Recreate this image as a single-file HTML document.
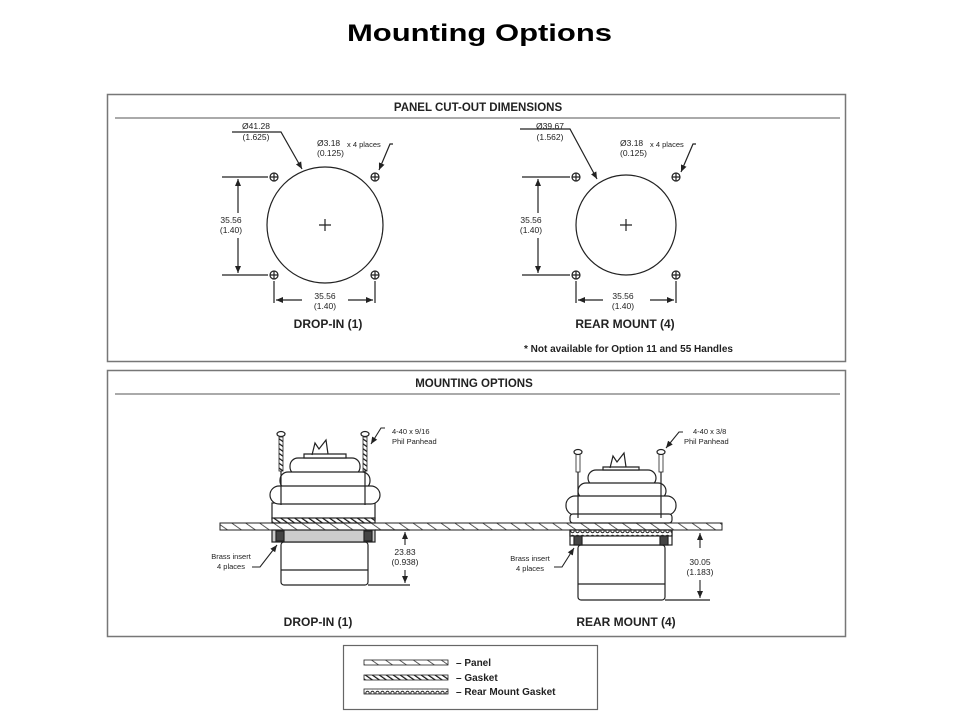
<!DOCTYPE html>
<html><head><style>
body{margin:0;background:#fff;}
svg{display:block;}
text{font-family:"Liberation Sans",sans-serif;fill:#222;}
</style></head><body>
<svg width="960" height="720" viewBox="0 0 960 720">
<defs>
<pattern id="hatch" width="8" height="8" patternUnits="userSpaceOnUse" patternTransform="rotate(-55)">
<line x1="0" y1="0" x2="0" y2="8" stroke="#333" stroke-width="1.6"/></pattern>
<pattern id="gask" width="4" height="4" patternUnits="userSpaceOnUse" patternTransform="rotate(-55)">
<rect width="4" height="4" fill="#fff"/><line x1="0" y1="0" x2="0" y2="4" stroke="#111" stroke-width="2.4"/></pattern>
<pattern id="rgask" width="5" height="6" patternUnits="userSpaceOnUse">
<rect width="5" height="6" fill="#fff"/><circle cx="2.5" cy="3" r="1.7" fill="none" stroke="#222" stroke-width="1"/></pattern>
<marker id="ar" markerWidth="8" markerHeight="8" refX="7" refY="4" orient="auto" markerUnits="userSpaceOnUse"><path d="M0,1 L7,4 L0,7 z" fill="#222"/></marker>
</defs>
<text x="347" y="41" textLength="265" lengthAdjust="spacingAndGlyphs" font-size="24" font-weight="bold" style="fill:#000">Mounting Options</text>

<!-- Panel 1 -->
<rect x="107.5" y="94.5" width="738" height="267" fill="none" stroke="#777" stroke-width="1.5"/>
<text x="478" y="111" text-anchor="middle" font-size="11.5" font-weight="bold">PANEL CUT-OUT DIMENSIONS</text>
<line x1="115" y1="118" x2="840" y2="118" stroke="#777" stroke-width="1.2"/>

<g stroke="#222" fill="none" stroke-width="1.2">
<circle cx="325" cy="225" r="58"/>
<path d="M319,225h12M325,219v12"/>
<g><circle cx="274" cy="177" r="4"/><path d="M270,177h8M274,173v8"/></g>
<g><circle cx="375" cy="177" r="4"/><path d="M371,177h8M375,173v8"/></g>
<g><circle cx="274" cy="275" r="4"/><path d="M270,275h8M274,271v8"/></g>
<g><circle cx="375" cy="275" r="4"/><path d="M371,275h8M375,271v8"/></g>
<path d="M222,177h46M222,275h46"/>
<path d="M238,213V179" marker-end="url(#ar)"/><path d="M238,238V273" marker-end="url(#ar)"/>
<path d="M274,281v22M375,281v22"/>
<path d="M302,300H276" marker-end="url(#ar)"/><path d="M348,300H373" marker-end="url(#ar)"/>
<path d="M232,132h49l21,37" marker-end="url(#ar)"/>
<path d="M393,144h-3l-11,26" marker-end="url(#ar)"/>
</g>
<text x="256" y="129" text-anchor="middle" font-size="8.5">Ø41.28</text>
<text x="256" y="140" text-anchor="middle" font-size="8.5">(1.625)</text>
<text x="317" y="146" font-size="8.5">Ø3.18</text><text x="317" y="156" font-size="8.5">(0.125)</text>
<text x="347" y="147" font-size="7.5">x 4 places</text>
<text x="231" y="223" text-anchor="middle" font-size="8.5">35.56</text>
<text x="231" y="233" text-anchor="middle" font-size="8.5">(1.40)</text>
<text x="325" y="299" text-anchor="middle" font-size="8.5">35.56</text>
<text x="325" y="309" text-anchor="middle" font-size="8.5">(1.40)</text>
<text x="328" y="328" text-anchor="middle" font-size="12" font-weight="bold">DROP-IN (1)</text>

<g stroke="#222" fill="none" stroke-width="1.2">
<circle cx="626" cy="225" r="50"/>
<path d="M620,225h12M626,219v12"/>
<g><circle cx="576" cy="177" r="4"/><path d="M572,177h8M576,173v8"/></g>
<g><circle cx="676" cy="177" r="4"/><path d="M672,177h8M676,173v8"/></g>
<g><circle cx="576" cy="275" r="4"/><path d="M572,275h8M576,271v8"/></g>
<g><circle cx="676" cy="275" r="4"/><path d="M672,275h8M676,271v8"/></g>
<path d="M522,177h48M522,275h48"/>
<path d="M538,213V179" marker-end="url(#ar)"/><path d="M538,238V273" marker-end="url(#ar)"/>
<path d="M576,281v22M676,281v22"/>
<path d="M603,300H578" marker-end="url(#ar)"/><path d="M650,300H674" marker-end="url(#ar)"/>
<path d="M520,129h50l27,50" marker-end="url(#ar)"/>
<path d="M696,144h-3l-12,28" marker-end="url(#ar)"/>
</g>
<text x="550" y="129" text-anchor="middle" font-size="8.5">Ø39.67</text>
<text x="550" y="140" text-anchor="middle" font-size="8.5">(1.562)</text>
<text x="620" y="146" font-size="8.5">Ø3.18</text><text x="620" y="156" font-size="8.5">(0.125)</text>
<text x="650" y="147" font-size="7.5">x 4 places</text>
<text x="531" y="223" text-anchor="middle" font-size="8.5">35.56</text>
<text x="531" y="233" text-anchor="middle" font-size="8.5">(1.40)</text>
<text x="623" y="299" text-anchor="middle" font-size="8.5">35.56</text>
<text x="623" y="309" text-anchor="middle" font-size="8.5">(1.40)</text>
<text x="625" y="328" text-anchor="middle" font-size="12" font-weight="bold">REAR MOUNT (4)</text>
<text x="524" y="352" font-size="10" font-weight="bold">*  Not available for Option 11 and 55 Handles</text>

<!-- Panel 2 -->
<rect x="107.5" y="370.5" width="738" height="266" fill="none" stroke="#777" stroke-width="1.5"/>
<text x="474" y="387" text-anchor="middle" font-size="11.5" font-weight="bold">MOUNTING OPTIONS</text>
<line x1="115" y1="394" x2="840" y2="394" stroke="#777" stroke-width="1.2"/>

<rect x="220" y="523" width="502" height="7" fill="url(#hatch)" stroke="#222" stroke-width="1"/>

<!-- drop-in -->
<g stroke="#222" stroke-width="1.2" fill="#fff">
<rect x="281" y="542" width="87" height="43" rx="3"/>
<line x1="281" y1="570" x2="368" y2="570"/>
<rect x="272" y="530" width="103" height="12" fill="#ccc"/>
<rect x="276" y="531" width="8" height="10" fill="#444"/><rect x="364" y="531" width="8" height="10" fill="#444"/>
<rect x="272" y="503" width="103" height="16"/>
<rect x="272" y="518" width="103" height="5" fill="url(#gask)"/>
<rect x="290" y="458" width="70" height="17" rx="8"/>
<rect x="280" y="472" width="90" height="17" rx="8"/>
<rect x="270" y="486" width="110" height="18" rx="9"/>
<path d="M304,458h42v-4h-42z"/>
<path d="M312,455l3,-12 4,6 7,-9 2,14" fill="none"/>
<path d="M281,437v68M365,437v68" fill="none"/>
<rect x="279" y="437" width="4" height="34" fill="url(#gask)" stroke-width="0.8"/>
<rect x="363" y="437" width="4" height="34" fill="url(#gask)" stroke-width="0.8"/>
<ellipse cx="281" cy="434" rx="4" ry="2.5"/><ellipse cx="365" cy="434" rx="4" ry="2.5"/>
<path d="M368,585h42" fill="none"/><path d="M375,530h35" fill="none"/>
</g>
<g stroke="#222" stroke-width="1.1" fill="none">
<path d="M405,545v-13" marker-end="url(#ar)"/><path d="M405,570v13" marker-end="url(#ar)"/>
<path d="M252,567h8l17,-22" marker-end="url(#ar)"/>
<path d="M385,428h-4l-10,16" marker-end="url(#ar)"/>
</g>
<text x="231" y="559" text-anchor="middle" font-size="7.5">Brass insert</text>
<text x="231" y="569" text-anchor="middle" font-size="7.5">4 places</text>
<text x="405" y="555" text-anchor="middle" font-size="8.5">23.83</text>
<text x="405" y="565" text-anchor="middle" font-size="8.5">(0.938)</text>
<text x="392" y="434" font-size="7.5">4-40 x 9/16</text>
<text x="392" y="444" font-size="7.5">Phil Panhead</text>
<text x="318" y="626" text-anchor="middle" font-size="12" font-weight="bold">DROP-IN (1)</text>

<!-- rear mount -->
<g stroke="#222" stroke-width="1.2" fill="#fff">
<rect x="578" y="545" width="87" height="55" rx="3"/>
<line x1="578" y1="584" x2="665" y2="584"/>
<rect x="570" y="530" width="102" height="15"/>
<rect x="570" y="530" width="102" height="6" fill="url(#rgask)"/>
<rect x="574" y="536" width="8" height="9" fill="#444"/><rect x="660" y="536" width="8" height="9" fill="#444"/>
<rect x="588" y="470" width="68" height="16" rx="8"/>
<rect x="578" y="483" width="88" height="16" rx="8"/>
<rect x="566" y="496" width="110" height="19" rx="9"/>
<rect x="570" y="514" width="102" height="9" rx="3"/>
<path d="M603,470h36v-3h-36z"/>
<path d="M610,468l3,-12 4,6 7,-9 2,14" fill="none"/>
<path d="M578,472v46M661,472v46" fill="none"/>
<rect x="576" y="454" width="4" height="18" fill="#fff" stroke-width="0.8"/>
<rect x="659" y="454" width="4" height="18" fill="#fff" stroke-width="0.8"/>
<ellipse cx="578" cy="452" rx="4" ry="2.5"/><ellipse cx="661" cy="452" rx="4" ry="2.5"/>
<path d="M665,600h45" fill="none"/>
</g>
<g stroke="#222" stroke-width="1.1" fill="none">
<path d="M700,548v-15" marker-end="url(#ar)"/><path d="M700,580v18" marker-end="url(#ar)"/>
<path d="M554,567h8l12,-19" marker-end="url(#ar)"/>
<path d="M683,432h-4l-13,16" marker-end="url(#ar)"/>
</g>
<text x="530" y="561" text-anchor="middle" font-size="7.5">Brass insert</text>
<text x="530" y="571" text-anchor="middle" font-size="7.5">4 places</text>
<text x="700" y="565" text-anchor="middle" font-size="8.5">30.05</text>
<text x="700" y="575" text-anchor="middle" font-size="8.5">(1.183)</text>
<text x="693" y="434" font-size="7.5">4-40 x 3/8</text>
<text x="684" y="444" font-size="7.5">Phil Panhead</text>
<text x="626" y="626" text-anchor="middle" font-size="12" font-weight="bold">REAR MOUNT (4)</text>

<!-- legend -->
<rect x="343.5" y="645.5" width="254" height="64" fill="none" stroke="#666" stroke-width="1.2"/>
<rect x="364" y="660" width="84" height="5" fill="url(#hatch)" stroke="#222" stroke-width="0.8"/>
<rect x="364" y="675" width="84" height="5" fill="url(#gask)" stroke="#222" stroke-width="0.8"/>
<rect x="364" y="689" width="84" height="5" fill="url(#rgask)" stroke="#222" stroke-width="0.8"/>
<text x="456" y="666" font-size="10" font-weight="bold">–  Panel</text>
<text x="456" y="681" font-size="10" font-weight="bold">–  Gasket</text>
<text x="456" y="695" font-size="10" font-weight="bold">–  Rear Mount Gasket</text>
</svg>
</body></html>
